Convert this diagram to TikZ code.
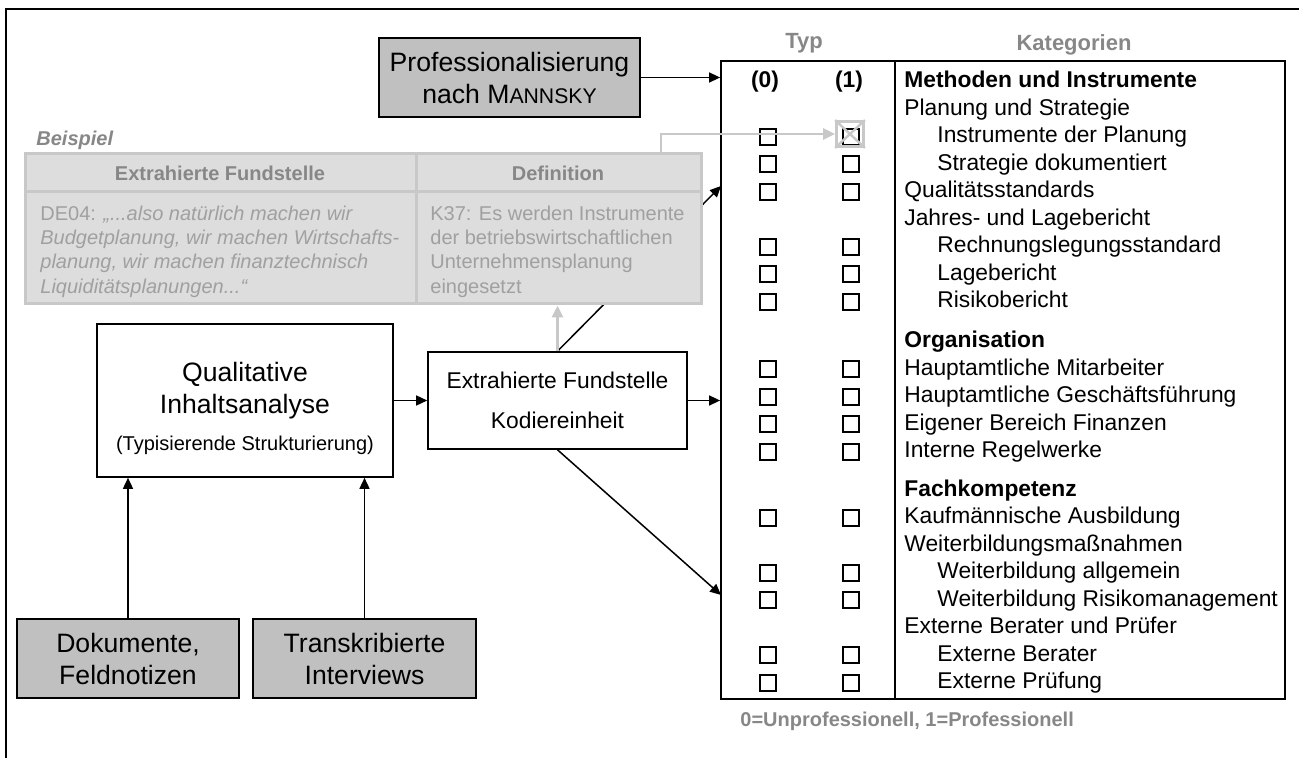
\documentclass[tikz,border=0pt]{standalone}
\usepackage{fontspec}
\setmainfont{Liberation Sans}
\usetikzlibrary{arrows.meta}
\definecolor{boxgray}{HTML}{C0C0C0}
\definecolor{bspfill}{HTML}{DDDDDD}
\definecolor{bspline}{HTML}{C8C8C8}
\definecolor{bsptext}{HTML}{A0A0A0}
\definecolor{capgray}{HTML}{878787}

\begin{document}
\begin{tikzpicture}[x=0.5pt,y=-0.5pt,
  box/.style={draw,line width=0.8pt,align=center,inner sep=0pt,font=\fontsize{13.3}{16}\selectfont},
  src/.style={box,fill=boxgray},
  arr/.style={line width=0.75pt,-{Triangle[length=5.5pt,width=5pt]}},
  garr/.style={draw=bspline,line width=1.5pt,-{Triangle[length=6pt,width=5.5pt]}},
  row/.style={font=\fontsize{11.4}{13.7}\selectfont,inner sep=0pt},
  bsptxt/.style={font=\fontsize{10}{12}\selectfont,text=bsptext,inner sep=0pt},
  colhead/.style={font=\fontsize{11}{13}\selectfont\bfseries,text=capgray,inner sep=0pt},
  cb/.style={line width=1pt}]
\useasboundingbox (0,0) rectangle (1299,758);
\draw[line width=1pt] (6,758) -- (6,9) -- (1299,9);

% sources and analysis steps
\node[src,minimum width=130.5pt,minimum height=39.5pt] (prof) at (509.5,77.5)
  {Professionalisierung\\nach M{\fontsize{10.6}{16}\selectfont ANNSKY}};
\node[box,minimum width=148pt,minimum height=76.5pt] (qual) at (245,400.5) {};
\node[align=center,inner sep=0pt,font=\fontsize{13.3}{16}\selectfont] (qualtxt) at (245,408)
  {Qualitative\\Inhaltsanalyse\\[2.5pt]{\fontsize{10}{12}\selectfont(Typisierende Strukturierung)}};
\node[box,minimum width=129.5pt,minimum height=48.5pt,font=\fontsize{11.4}{20}\selectfont] (extr) at (557.5,400.5)
  {Extrahierte Fundstelle\\Kodiereinheit};
\node[src,minimum width=111pt,minimum height=39.5pt] (dok) at (128,658.5) {Dokumente,\\Feldnotizen};
\node[src,minimum width=111.5pt,minimum height=39.5pt] (trans) at (364.5,658.5) {Transkribierte\\Interviews};

% category table
\node[draw,line width=0.9pt,minimum width=282pt,minimum height=319pt,inner sep=0pt] (typtab) at (1003,380) {};
\draw[line width=0.9pt] (895,61) -- (895,699);
\node[colhead] (typ) at (804,43) {Typ};
\node[colhead] (kat) at (1074,45) {Kategorien};
\node[row,font=\fontsize{11.4}{13.7}\selectfont\bfseries,anchor=base] (t0) at (765,88) {(0)};
\node[row,font=\fontsize{11.4}{13.7}\selectfont\bfseries,anchor=base] (t1) at (849,88) {(1)};
\foreach \y/\ind/\txt/\bx [count=\i] in {
  80/0/{\bfseries Methoden und Instrumente}/0,
  107.5/0/Planung und Strategie/0,
  135/1/Instrumente der Planung/1,
  162.5/1/Strategie dokumentiert/1,
  190/0/Qualitätsstandards/1,
  217.5/0/Jahres- und Lagebericht/0,
  245/1/Rechnungslegungsstandard/1,
  272.5/1/Lagebericht/1,
  300/1/Risikobericht/1,
  340/0/{\bfseries Organisation}/0,
  367.5/0/Hauptamtliche Mitarbeiter/1,
  395/0/Hauptamtliche Geschäftsführung/1,
  422.5/0/Eigener Bereich Finanzen/1,
  450/0/Interne Regelwerke/1,
  488/0/{\bfseries Fachkompetenz}/0,
  515.5/0/Kaufmännische Ausbildung/1,
  543/0/Weiterbildungsmaßnahmen/0,
  570.5/1/Weiterbildung allgemein/1,
  598/1/Weiterbildung Risikomanagement/1,
  625.5/0/Externe Berater und Prüfer/0,
  653/1/Externe Berater/1,
  680.5/1/Externe Prüfung/1}{
  \node[row,anchor=base west] (k\i) at (904+33*\ind,\y+8) {\txt};
  \ifnum\bx=1
    \draw[cb] (760,\y-6) rectangle (776,\y+10);
    \draw[cb] (843,\y-6) rectangle (859,\y+10);
  \fi
}
\node[font=\fontsize{10}{12}\selectfont\bfseries,text=capgray,inner sep=0pt,anchor=base west] (note) at (740,726)
  {0=Unprofessionell, 1=Professionell};

\coordinate (kin) at (721,186);
\coordinate (kout) at (721,595);
\draw[arr] (extr.north) -- (kin);

% example table
\node[anchor=base west,font=\fontsize{10}{12}\selectfont\bfseries\itshape,text=capgray,inner sep=0pt] (bsplbl) at (36,146) {Beispiel};
\node[draw=bspline,fill=bspfill,line width=1.5pt,minimum width=338pt,minimum height=75pt,inner sep=0pt] (bsp) at (363,229) {};
\draw[bspline,line width=1.5pt] (25,192) -- (701,192) (416,154) -- (416,304);
\node[bsptxt,text=capgray,font=\fontsize{10}{12}\selectfont\bfseries] (h1) at (220,173) {Extrahierte Fundstelle};
\node[bsptxt,text=capgray,font=\fontsize{10}{12}\selectfont\bfseries] (h2) at (558,173) {Definition};
\foreach \a/\b [count=\i] in {
  {DE04: \textit{„...also natürlich machen wir}}/{K37: Es werden Instrumente},
  {\textit{Budgetplanung, wir machen Wirtschafts-}}/{der betriebswirtschaftlichen},
  {\textit{planung, wir machen finanztechnisch}}/{Unternehmensplanung},
  {\textit{Liquiditätsplanungen...“}}/{eingesetzt}}{
  \node[bsptxt,anchor=base west] (fa\i) at (40,196+24.3*\i) {\a};
  \node[bsptxt,anchor=base west] (fb\i) at (430,196+24.3*\i) {\b};
}

% connectors
\draw[arr] (prof.east) -- (prof.east -| typtab.west);
\draw[arr] (qual) -- (extr);
\draw[arr] (extr) -- (extr -| typtab.west);
\draw[arr] (extr.south) -- (kout);
\draw[arr] (dok) -- (dok |- qual.south);
\draw[arr] (trans) -- (trans |- qual.south);
\draw[garr] (extr.north) -- (extr.north |- bsp.south);

\node[draw=bspline,line width=1.4pt,minimum width=13.5pt,minimum height=12.5pt,inner sep=0pt] (chk) at (850,134) {};
\draw[bspline,line width=1.2pt] (chk.north west) -- (chk.south east) (chk.north east) -- (chk.south west);
\coordinate (bspout) at (661,154);
\draw[garr,line width=1.2pt] (bspout) |- (chk.west);
\end{tikzpicture}
\end{document}
